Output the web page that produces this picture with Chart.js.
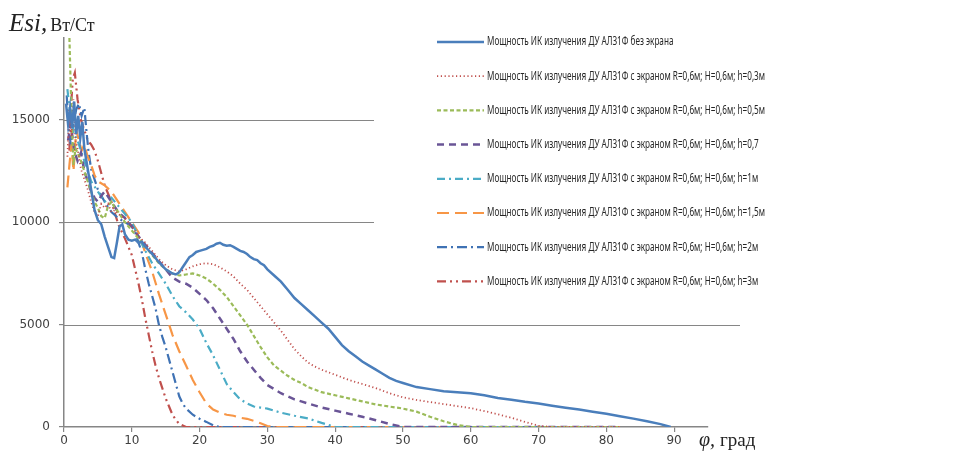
<!DOCTYPE html>
<html>
<head>
<meta charset="utf-8">
<script src="https://cdn.jsdelivr.net/npm/chart.js@4.4.0/dist/chart.umd.min.js"></script>
<style>
  html, body { margin: 0; padding: 0; background: #fff; }
  canvas { display: block; }
</style>
</head>
<body>
<canvas id="chart" width="964" height="456"></canvas>
<script>
// φ, град  /  Esi, Вт/Ст
const xTicks = [0, 10, 20, 30, 40, 50, 60, 70, 80, 90];
const yTicks = [0, 5000, 10000, 15000];

const noScreen = [[0.3,15800],[0.6,14800],[0.9,15600],[1.2,14600],[1.5,15900],[1.8,14300],[2.1,15200],[2.4,14100],[2.7,14900],[3,13600],[3.5,12600],[4,11600],[4.5,10600],[5,10100],[5.5,9900],[6,9300],[6.5,8800],[7,8300],[7.4,8250],[7.8,9000],[8.2,9800],[8.6,9900],[9,9400],[9.5,9150],[10,9100],[10.5,9150],[11,9000],[11.5,9050],[12,8800],[13,8450],[14,8050],[15,7700],[16,7500],[16.5,7450],[17,7550],[17.5,7800],[18,8050],[18.5,8300],[19,8400],[19.5,8550],[20,8600],[20.5,8650],[21,8700],[21.5,8800],[22,8850],[22.5,8950],[23,9000],[23.5,8900],[24,8850],[24.5,8880],[25,8800],[25.5,8700],[26,8600],[26.5,8550],[27,8450],[27.5,8300],[28,8200],[28.5,8150],[29,8000],[29.5,7900],[30,7700],[31,7400],[32,7100],[33,6700],[34,6300],[35,6000],[36,5700],[37,5400],[38,5100],[39,4800],[40,4400],[41,4000],[42,3700],[43,3450],[44,3200],[45,3000],[46,2800],[47,2600],[48,2400],[49,2250],[50,2150],[52,1950],[54,1850],[56,1750],[58,1700],[60,1650],[62,1550],[64,1420],[66,1330],[68,1230],[70,1150],[72,1040],[74,940],[76,850],[78,750],[80,650],[82,530],[84,410],[86,280],[88,140],[89.5,0]];
const h03 = [[0.5,13200],[0.8,15500],[1.1,14200],[1.4,16000],[1.7,14000],[2,13600],[2.5,12600],[3,12100],[3.5,11600],[4,11000],[4.5,10500],[5,10300],[5.5,10900],[6,10700],[6.5,10900],[7,10500],[7.5,10600],[8,10400],[9,10200],[10,9800],[11,9300],[12,9000],[13,8600],[14,8200],[15,7900],[16,7700],[17,7600],[18,7700],[19,7850],[20,7950],[21,8000],[22,7950],[23,7800],[24,7600],[25,7350],[26,7000],[27,6700],[28,6300],[29,5900],[30,5500],[31,5100],[32,4700],[33,4250],[34,3800],[35,3450],[36,3150],[37,2950],[38,2800],[40,2550],[42,2300],[44,2100],[46,1900],[48,1650],[50,1450],[52,1320],[54,1220],[56,1120],[58,1020],[60,920],[62,780],[64,620],[66,450],[68,250],[70,60],[72,0],[82,0]];
const h05 = [[0.8,19000],[1,16500],[1.2,14500],[1.4,12800],[1.7,13600],[2,13400],[2.5,13000],[3,12500],[3.5,12000],[4,11500],[4.5,11000],[5,10700],[5.5,10300],[6,10200],[6.5,10800],[7,11000],[7.5,10700],[8,10500],[9,10000],[10,9600],[11,9200],[12,8800],[13,8400],[14,8000],[15,7700],[16,7500],[17,7400],[18,7450],[19,7500],[20,7400],[21,7250],[22,7000],[23,6700],[24,6350],[25,5900],[26,5450],[27,5000],[28,4450],[29,3900],[30,3400],[31,3000],[32,2750],[33,2500],[34,2300],[35,2150],[36,1950],[38,1700],[40,1550],[42,1400],[44,1250],[46,1100],[48,1000],[50,900],[52,750],[54,500],[56,280],[58,100],[60,0],[82,0]];
const h07 = [[0.6,14000],[1,14800],[1.5,13500],[2,13000],[2.5,13400],[3,12500],[3.5,12000],[4,11500],[4.5,11200],[5,11000],[5.5,11300],[6,11500],[7,11000],[8,10500],[9,10200],[10,9800],[11,9300],[12,8900],[13,8500],[14,8100],[15,7700],[16,7300],[17,7100],[18,7000],[19,6800],[20,6500],[21,6200],[22,5800],[23,5300],[24,4800],[25,4300],[26,3700],[27,3200],[28,2800],[29,2400],[30,2050],[31,1850],[32,1650],[33,1500],[34,1350],[35,1250],[36,1150],[38,950],[40,800],[42,650],[44,500],[46,330],[48,150],[50,0],[82,0]];
const h1 = [[0.5,16500],[1,15000],[1.5,14300],[2,14000],[2.5,13500],[3,13000],[4,12000],[5,11500],[6,11000],[7,11200],[8,10800],[9,10400],[10,10000],[11,9300],[12,8600],[13,8000],[14,7500],[15,7000],[16,6400],[17,5900],[18,5600],[19,5250],[20,4800],[21,4100],[22,3500],[23,2800],[24,2100],[25,1700],[26,1350],[27,1150],[28,1000],[29,950],[30,900],[32,700],[34,550],[36,420],[38,200],[40,0],[82,0]];
const h15 = [[0.5,11700],[0.8,12800],[1.1,13800],[1.4,12500],[1.8,14500],[2.2,14000],[2.6,13500],[3,13800],[3.5,13200],[4,12800],[4.5,12300],[5,12000],[6,11800],[7,11500],[8,11000],[9,10500],[10,10000],[11,9500],[12,8500],[13,7600],[14,6500],[15,5500],[16,4500],[17,3700],[18,3000],[19,2300],[20,1700],[21,1150],[22,850],[23,700],[24,600],[25,550],[26,450],[27,400],[28,300],[29,180],[30,50],[31,0],[82,0]];
const h2 = [[0.4,16200],[0.7,14500],[1,13800],[1.4,14800],[1.8,15500],[2.2,15800],[2.6,15200],[3,15600],[3.3,14500],[3.6,13500],[4,12600],[5,11600],[6,11000],[7,10500],[8,10200],[9,10000],[10,9800],[10.5,9500],[11,9000],[11.5,8500],[12,7700],[12.5,7000],[13,6400],[13.5,5800],[14,5000],[14.5,4400],[15,3900],[15.5,3300],[16,2700],[16.5,2100],[17,1500],[17.5,1150],[18,900],[19,600],[20,400],[21,250],[22,80],[23,0],[82,0]];
const h3 = [[0.8,13500],[1,15500],[1.3,17000],[1.6,17300],[2,16000],[2.5,15000],[3,14500],[3.5,14000],[4,13800],[4.5,13500],[5,13000],[6,11800],[7,11000],[8,9900],[9,9200],[10,8400],[11,7000],[11.5,6200],[12,5300],[12.5,4500],[13,3700],[13.5,3000],[14,2400],[14.5,1900],[15,1400],[15.5,1000],[16,600],[16.5,350],[17,150],[18,0],[82,0]];

const seriesData = [noScreen, h03, h05, h07, h1, h15, h2, h3];
const seriesLabels = [
  "Мощность ИК излучения ДУ АЛ31Ф без экрана",
  "Мощность ИК излучения ДУ АЛ31Ф с экраном R=0,6м; H=0,6м; h=0,3м",
  "Мощность ИК излучения ДУ АЛ31Ф с экраном R=0,6м; H=0,6м; h=0,5м",
  "Мощность ИК излучения ДУ АЛ31Ф с экраном R=0,6м; H=0,6м; h=0,7",
  "Мощность ИК излучения ДУ АЛ31Ф с экраном R=0,6м; H=0,6м; h=1м",
  "Мощность ИК излучения ДУ АЛ31Ф с экраном R=0,6м; H=0,6м; h=1,5м",
  "Мощность ИК излучения ДУ АЛ31Ф с экраном R=0,6м; H=0,6м; h=2м",
  "Мощность ИК излучения ДУ АЛ31Ф с экраном R=0,6м; H=0,6м; h=3м",
];

const styles = [
  { color: "#4a7ebb", width: 2.5, dash: [] },
  { color: "#c0504d", width: 1.8, dash: [1.2, 2.6] },
  { color: "#9bbb59", width: 2.2, dash: [4, 2.5] },
  { color: "#6a5596", width: 2.5, dash: [7, 5] },
  { color: "#4bacc6", width: 2.2, dash: [8, 4, 2, 4] },
  { color: "#f79646", width: 2.2, dash: [12, 6] },
  { color: "#3f72b4", width: 2.2, dash: [10, 4, 2, 4] },
  { color: "#c0504d", width: 2.2, dash: [9, 4, 2, 4, 2, 4] },
];

const GRID = "#868686";

// horizontal grid lines (5000 line runs past the axis end, as in the original)
const gridPlugin = {
  id: "gridLines",
  beforeDatasetsDraw(chart) {
    const { ctx, chartArea } = chart;
    const y = chart.scales.y;
    ctx.save();
    ctx.strokeStyle = GRID;
    ctx.lineWidth = 1.2;
    yTicks.forEach((v) => {
      if (v === 0) return;
      const py = Math.round(y.getPixelForValue(v)) + 0.5;
      ctx.beginPath();
      ctx.moveTo(chartArea.left, py);
      ctx.lineTo(chartArea.right + 32, py);
      ctx.stroke();
    });
    ctx.restore();
  },
};

// legend box over the plot + axis titles
const legendPlugin = {
  id: "legendBox",
  afterDatasetsDraw(chart) {
    const { ctx } = chart;
    ctx.save();
    ctx.fillStyle = "#fff";
    ctx.fillRect(374, 24, 400, 282);

    ctx.font = "12px 'Noto Sans'";
    const widest = Math.max(...seriesLabels.map((t) => ctx.measureText(t).width));
    const sx = Math.min(1, 278 / widest);

    seriesLabels.forEach((label, i) => {
      const ry = 42 + i * 34.2;
      const st = styles[i];
      ctx.strokeStyle = st.color;
      ctx.lineWidth = st.width;
      ctx.setLineDash(st.dash);
      ctx.beginPath();
      ctx.moveTo(437, ry);
      ctx.lineTo(484, ry);
      ctx.stroke();
      ctx.setLineDash([]);

      ctx.save();
      ctx.translate(487, ry);
      ctx.scale(sx, 1);
      ctx.fillStyle = "#262626";
      ctx.textBaseline = "middle";
      ctx.fillText(label, 0, 0);
      ctx.restore();
    });

    // y title
    ctx.fillStyle = "#222";
    ctx.textBaseline = "alphabetic";
    ctx.font = "italic 25px 'Liberation Serif'";
    ctx.fillText("Esi,", 9, 31);
    let w = ctx.measureText("Esi,").width;
    ctx.font = "18px 'Liberation Serif'";
    ctx.fillText("Вт/Ст", 9 + w + 3, 31);

    // x title
    ctx.font = "italic 20px 'Liberation Serif'";
    ctx.fillText("φ,", 699, 446);
    w = ctx.measureText("φ,").width;
    ctx.font = "19px 'Liberation Serif'";
    ctx.fillText("град", 699 + w + 5, 446);
    ctx.restore();
  },
};

const ctx = document.getElementById("chart").getContext("2d");

new Chart(ctx, {
  type: "scatter",
  data: {
    datasets: seriesData.map((pts, i) => ({
      label: seriesLabels[i],
      data: pts.map((p) => ({ x: p[0], y: p[1] })),
      showLine: true,
      borderColor: styles[i].color,
      borderWidth: styles[i].width,
      borderDash: styles[i].dash,
      pointRadius: 0,
      tension: 0,
      fill: false,
    })),
  },
  options: {
    responsive: false,
    animation: false,
    events: [],
    layout: { padding: { top: 38, right: 256, left: 0, bottom: 0 } },
    plugins: {
      legend: { display: false },
      tooltip: { enabled: false },
    },
    scales: {
      x: {
        type: "linear",
        min: 0,
        max: 95,
        afterBuildTicks: (s) => { s.ticks = xTicks.map((v) => ({ value: v })); },
        afterFit: (s) => { s.height = 29; },
        grid: { drawOnChartArea: false, drawTicks: true, tickLength: 5, color: GRID, lineWidth: 1.2 },
        border: { color: GRID, width: 1.5 },
        ticks: {
          autoSkip: false,
          maxRotation: 0,
          padding: 2,
          color: "#404040",
          font: { family: "'DejaVu Sans'", size: 12 },
          callback: (v) => String(v),
        },
      },
      y: {
        min: 0,
        max: 19000,
        afterBuildTicks: (s) => { s.ticks = yTicks.map((v) => ({ value: v })); },
        afterFit: (s) => { s.width = 64; },
        grid: { drawOnChartArea: false, drawTicks: true, tickLength: 5, color: GRID, lineWidth: 1.2 },
        border: { color: GRID, width: 1.5 },
        ticks: {
          padding: 9,
          color: "#404040",
          font: { family: "'DejaVu Sans'", size: 12 },
          callback: (v) => String(v),
        },
      },
    },
  },
  plugins: [gridPlugin, legendPlugin],
});
</script>
</body>
</html>
